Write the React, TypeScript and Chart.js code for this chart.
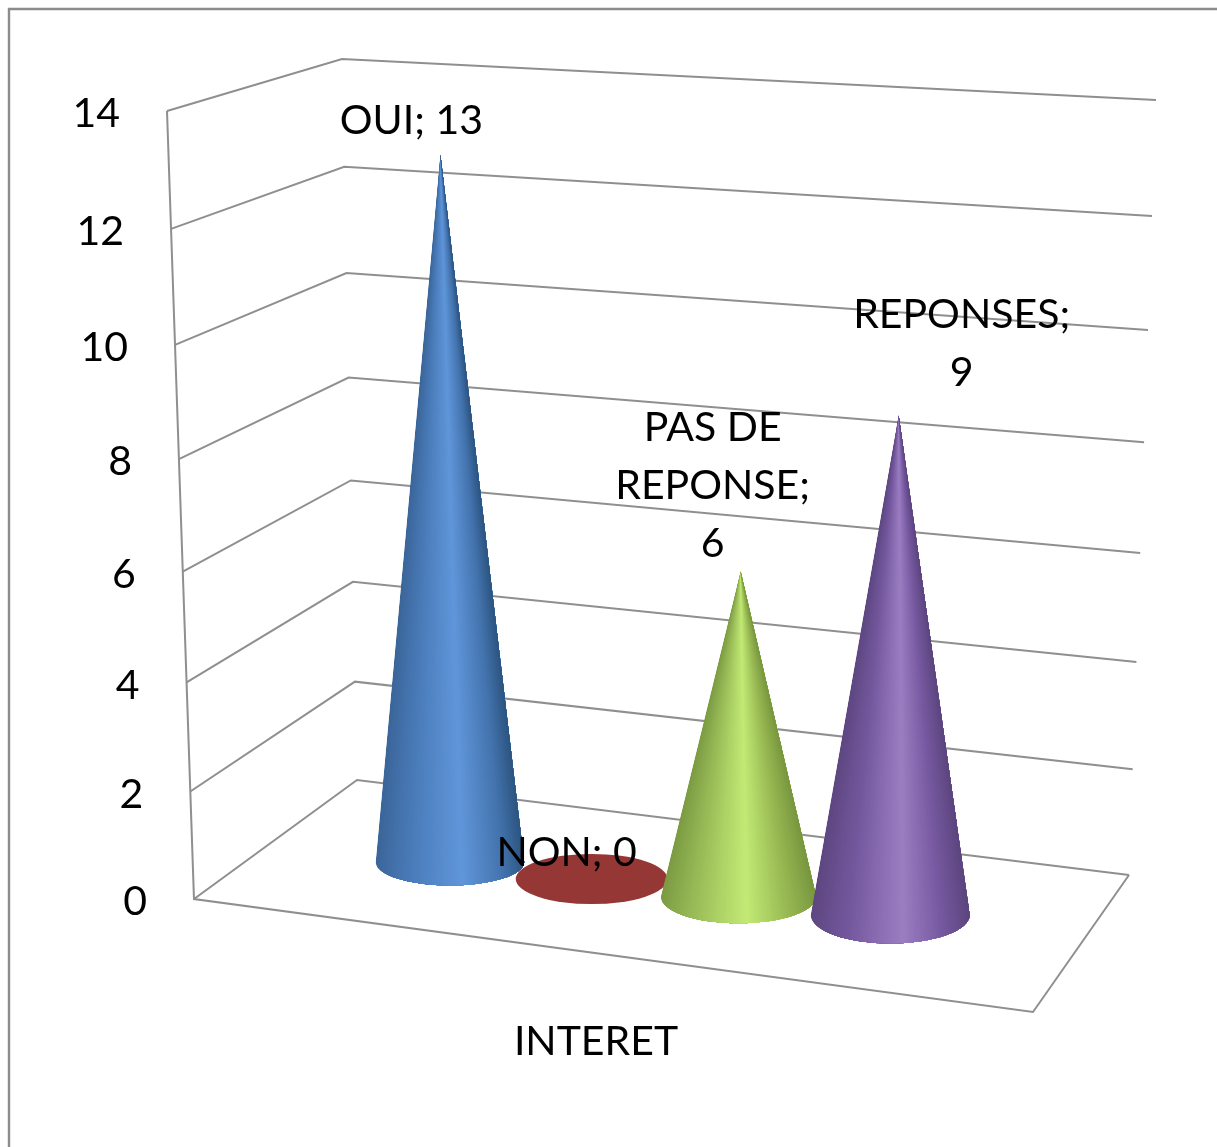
import React, { useEffect, useRef } from "react";
import { Chart, registerables } from "chart.js";

Chart.register(...registerables);

const categories = ["INTERET"];
const seriesNames = ["OUI", "NON", "PAS DE REPONSE", "REPONSES"];
const seriesValues = [13, 0, 6, 9];
const seriesColors = ["#4f81bd", "#953735", "#9bbb59", "#8064a2"];
const yTicks = { min: 0, max: 14, step: 2 };

const gradients: [number, string][][] = [
  [[0, "#3a6599"], [0.25, "#4b7cba"], [0.58, "#6096da"], [0.85, "#4373ad"], [1, "#2c5480"]],
  [[0, "#953735"], [1, "#953735"]],
  [[0, "#7b9a42"], [0.28, "#a0c35c"], [0.55, "#c2ea75"], [0.8, "#98b953"], [1, "#78963f"]],
  [[0, "#5d4680"], [0.25, "#74589e"], [0.58, "#9b7dc2"], [0.82, "#75589f"], [1, "#5c457e"]],
];
// data-label centre offset from the cone tip (last line), in pixels
const labelOffsets: [number, number][] = [[-29, -34], [-25, -26], [-28, -28], [63, -43]];

const FONT = '41px Lato, "Open Sans", sans-serif';
const GRID = "#8f8f8f";

const hex = (c: string) => [1, 3, 5].map((i) => parseInt(c.slice(i, i + 2), 16));
function colorAt(stops: [number, string][], u: number) {
  for (let i = 1; i < stops.length; i++) {
    if (u <= stops[i][0]) {
      const k = (u - stops[i - 1][0]) / (stops[i][0] - stops[i - 1][0]);
      const a = hex(stops[i - 1][1]);
      const b = hex(stops[i][1]);
      return `rgb(${a.map((v, j) => Math.round(v + (b[j] - v) * k)).join(",")})`;
    }
  }
  return stops[stops.length - 1][1];
}

// perspective compression of the vertical axis
const warp = (t: number) => t / (t + (1 - t) * 1.055);
const lerp = (a: number, b: number, s: number) => a + (b - a) * s;

const scene = {
  id: "scene3d",
  beforeDatasetsDraw(chart: any) {
    const { ctx, scales } = chart;
    const y = scales.y;
    const base = y.getPixelForValue(yTicks.min);
    const top = y.getPixelForValue(yTicks.max);
    const frac = (px: number) => warp((base - px) / (base - top));

    // wall edges, as offsets from the value axis's own top and bottom
    const corner = (x0: number, d0: number, x1: number, d1: number, s: number) => ({
      x: lerp(x0, x1, s),
      y: lerp(base + d0, top + d1, s),
    });
    const front = (s: number) => corner(194, 0, 167, 0, s);
    const back = (s: number) => corner(357, -119, 342, -52, s);
    const right = (s: number) => corner(1129, -24, 1156, -11, s);

    ctx.save();

    // outer frame
    ctx.strokeStyle = "#8c8c8c";
    ctx.lineWidth = 2.4;
    ctx.beginPath();
    ctx.moveTo(9, chart.height);
    ctx.lineTo(9, 9);
    ctx.lineTo(chart.width, 9);
    ctx.stroke();

    // walls and floor
    ctx.strokeStyle = GRID;
    ctx.lineWidth = 2;
    ctx.lineJoin = "miter";
    y.ticks.forEach((tick: any) => {
      const s = frac(y.getPixelForValue(tick.value));
      const a = front(s), b = back(s), c = right(s);
      ctx.beginPath();
      ctx.moveTo(a.x, a.y);
      ctx.lineTo(b.x, b.y);
      ctx.lineTo(c.x, c.y);
      ctx.stroke();
    });
    const f0 = front(0), f1 = front(1), r0 = right(0);
    ctx.beginPath();
    ctx.moveTo(f1.x, f1.y);
    ctx.lineTo(f0.x, f0.y);
    ctx.lineTo(1033, base + 113);
    ctx.lineTo(r0.x, r0.y);
    ctx.stroke();

    // value-axis labels follow the slanted front edge
    ctx.font = FONT;
    ctx.fillStyle = "#000000";
    ctx.textAlign = "right";
    ctx.textBaseline = "middle";
    y.ticks.forEach((tick: any) => {
      const p = front(frac(y.getPixelForValue(tick.value)));
      ctx.fillText(String(tick.value), p.x - 47, p.y + 3);
    });

    // cones, one per series
    const tips: { x: number; y: number }[] = [];
    chart.data.datasets.forEach((ds: any, i: number) => {
      const el = chart.getDatasetMeta(i).data[0];
      const value = ds.data[0];
      const px = el.x + 1.16e-4 * (el.x - 667.5) ** 2 - 3.1;
      const rx = (el.width / 2) * (1.012 + (px - 450) * 1.6e-4);
      const ry = 23.5 + (px - 450) * 0.0114;
      const cy = base - 37 + (px - 450) * 0.12;
      const h = frac(el.y) * (base - top) * (0.97 + (px - 450) * 8e-5);
      const tx = px + value * 0.0038 * (px - 642);
      const ty = cy - h;
      tips.push({ x: tx, y: ty });

      if (value === 0) {
        ctx.fillStyle = gradients[i][0][1];
        ctx.beginPath();
        ctx.ellipse(px, cy, rx, ry, 0, 0, Math.PI * 2);
        ctx.fill();
        return;
      }
      // clip to the cone's outline, then paint fans from the tip left to right
      ctx.save();
      ctx.beginPath();
      ctx.moveTo(tx, ty);
      ctx.lineTo(px - rx, cy);
      ctx.ellipse(px, cy, rx, ry, 0, Math.PI, 0, true);
      ctx.closePath();
      ctx.clip();
      const N = 64;
      const reach = 1.15;
      for (let k = 0; k < N; k++) {
        const bx = px - rx + (2 * rx * k) / N;
        ctx.fillStyle = colorAt(gradients[i], (k + 0.5) / N);
        ctx.beginPath();
        ctx.moveTo(tx, ty);
        ctx.lineTo(tx + (bx - tx) * reach, ty + (cy - ty) * reach);
        ctx.lineTo(px + rx + 40, ty + (cy - ty) * reach);
        ctx.lineTo(px + rx + 40, ty - 5);
        ctx.closePath();
        ctx.fill();
      }
      ctx.restore();
    });

    // data labels: "series; value", wrapped as in the reference
    ctx.font = FONT;
    ctx.fillStyle = "#000000";
    ctx.textAlign = "center";
    ctx.textBaseline = "middle";
    chart.data.datasets.forEach((ds: any, i: number) => {
      const words = `${ds.label}; ${ds.data[0]}`.split(" ");
      const lines: string[] = [];
      let cur = "";
      words.forEach((w) => {
        const next = cur ? `${cur} ${w}` : w;
        if (ctx.measureText(next).width > 205 && cur) {
          lines.push(cur);
          cur = w;
        } else cur = next;
      });
      lines.push(cur);
      const [ox, oy] = labelOffsets[i];
      lines.forEach((line, k) => {
        ctx.fillText(line, tips[i].x + ox, tips[i].y + oy - (lines.length - 1 - k) * 58);
      });
    });
    ctx.restore();
    return false;
  },
};

export default function App() {
  const ref = useRef<HTMLCanvasElement | null>(null);
  useEffect(() => {
    const chart = new Chart(ref.current as HTMLCanvasElement, {
      type: "bar",
      data: {
        labels: categories,
        datasets: seriesNames.map((label, i) => ({
          label,
          data: [seriesValues[i]],
          backgroundColor: seriesColors[i],
          categoryPercentage: 1,
          barPercentage: 1,
        })),
      },
      plugins: [scene],
      options: {
        responsive: false,
        animation: false,
        layout: { padding: { left: 374, right: 256, top: 111, bottom: 0 } },
        plugins: { legend: { display: false }, tooltip: { enabled: false }, title: { display: false } },
        scales: {
          x: {
            grid: { display: false, drawTicks: false },
            border: { display: false },
            afterFit: (s: any) => {
              s.height = 248;
            },
            ticks: {
              padding: 118,
              labelOffset: -71.5,
              maxRotation: 0,
              color: "#000000",
              font: { family: "Lato", size: 41 },
            },
          },
          y: {
            display: false,
            min: yTicks.min,
            max: yTicks.max,
            ticks: { stepSize: yTicks.step },
          },
        },
      } as any,
    });
    return () => chart.destroy();
  }, []);
  return (
    <div style={{ position: "fixed", left: 0, top: 0, width: 1217, height: 1147, background: "#fff" }}>
      <canvas ref={ref} width={1217} height={1147} style={{ display: "block" }} />
    </div>
  );
}
